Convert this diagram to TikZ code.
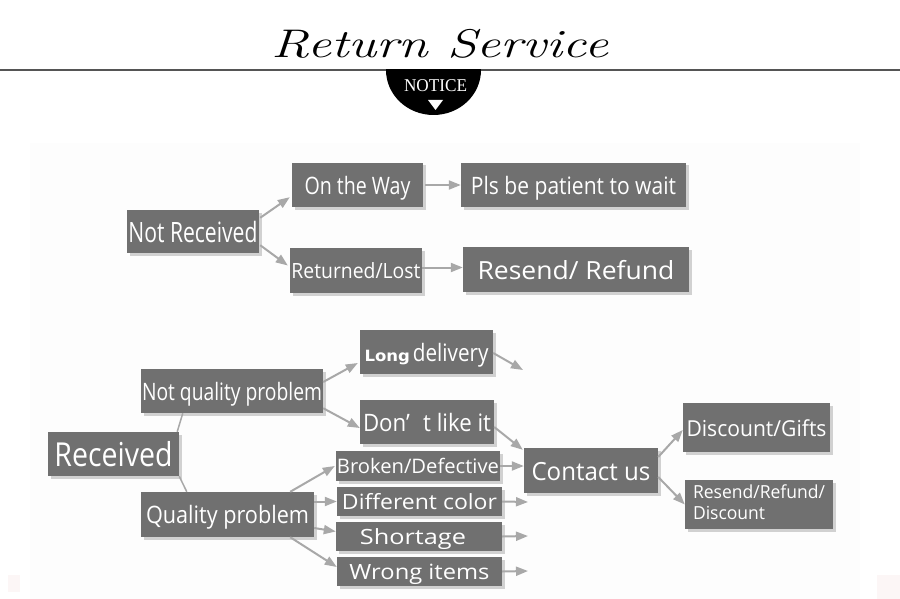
\documentclass[tikz,border=0pt]{standalone}
\usepackage{fontspec}
\setmainfont{Open Sans}
\newfontfamily\notefont{Liberation Serif}
\newfontfamily\titlefont{Latin Modern Roman}
\newfontfamily\tahfont{DejaVu Sans}
\usepackage{graphicx}
\usetikzlibrary{arrows.meta,shadows,calc}
\definecolor{boxgray}{RGB}{112,112,112}
\definecolor{arrgray}{RGB}{168,168,168}
\definecolor{rulegray}{RGB}{85,85,85}
\definecolor{panel}{RGB}{253,253,253}
\definecolor{pinkish}{RGB}{252,246,246}
\tikzset{
  box/.style={fill=boxgray,text=white,inner sep=0pt,align=center,
    drop shadow={shadow xshift=2.5pt,shadow yshift=-2.5pt,fill=black!22,opacity=0.8}},
  arr/.style={draw=arrgray,line width=2pt,-{Triangle[length=12pt,width=9pt]}},
  plainline/.style={draw=arrgray,line width=1.5pt}
}
% name, x1, y1, x2, y2, text width, font size, content
\newcommand\bx[8]{\node[box,font=\fontsize{#7}{#7}\selectfont,text height=\fpeval{0.78*#7}pt,text depth=0pt,minimum width={#4-#2},minimum height={#5-#3}] (#1) at ({(#2+#4)/2},{(#3+#5)/2}) {\resizebox{#6pt}{\height}{#8}};}
\begin{document}
\begin{tikzpicture}[x=1pt,y=-1pt]
\useasboundingbox (0,0) rectangle (900,599);
\fill[white] (0,0) rectangle (900,599);
\fill[panel] (30,143) rectangle (860,599);
\fill[pinkish] (8,575) rectangle (20,592);
\fill[pinkish] (877,575) rectangle (900,599);
% title
\node[anchor=base,inner sep=0pt] (title) at (440,58) {\resizebox{336pt}{\height}{\titlefont\fontsize{40}{40}\selectfont\itshape Return Service}};
\draw[rulegray,line width=1.5pt] (0,70) coordinate (rl0) -- (900,70) coordinate (rl1);
\begin{scope}
\clip (380,70) rectangle (490,125);
\fill[black] (433.5,70) ellipse [x radius=47.5pt,y radius=45pt];
\end{scope}
\node[text=white,inner sep=0pt] (notice) at (435.5,85.5) {\notefont\fontsize{18}{18}\selectfont\resizebox{63pt}{\height}{NOTICE}};
\fill[white] (428,100) -- (443,100) -- (435.5,110) -- cycle;
% top section
\bx{nr}{127}{210}{259}{253}{129}{28}{Not Received}
\bx{otw}{292}{163}{423}{207}{106}{24}{On the Way}
\bx{pls}{461}{163}{686}{207}{205}{24}{Pls be patient to wait}
\bx{rl}{290}{248}{422}{293}{129}{21}{Returned/Lost}
\bx{rr}{463}{247}{689}{292}{197}{25}{Resend/ Refund}
% bottom section
\bx{ld}{360}{330}{493}{374}{124}{24}{\resizebox{45pt}{\height}{\tahfont\bfseries\fontsize{15.5}{17}\selectfont Long}\hspace{3pt}\resizebox{75pt}{\height}{delivery}}
\bx{nqp}{141}{369}{323}{413}{180}{24}{Not quality problem}
\bx{dl}{360}{400}{494}{444}{128}{24}{Don’\hspace{0.6em}t like it}
\bx{rec}{48}{432}{179}{476}{118}{33}{Received}
\bx{bd}{336}{451}{500}{481}{162}{20}{Broken/Defective}
\bx{dc}{337}{487}{502}{516}{155}{21}{Different color}
\bx{sh}{336}{522}{502}{551}{94}{21}{\hspace{-10pt}Shortage}
\bx{wi}{337}{557}{502}{586}{140}{21}{Wrong items}
\bx{qp}{141}{492}{314}{537}{163}{24}{Quality problem}
\bx{cu}{524}{448}{658}{493}{119}{25}{Contact us}
\bx{dg}{683}{403}{830}{452}{140}{22}{Discount/Gifts}
\node[box,font=\fontsize{18}{21}\selectfont,minimum width=148,minimum height=49] (rrd) at (759,504.5) {\resizebox{132pt}{\height}{\begin{tabular}{@{}l@{}}Resend/Refund/\\Discount\end{tabular}}};
% free ends
\coordinate (ldend) at (523,370);
\coordinate (dcend) at (528,502);
\coordinate (shend) at (528,536);
\coordinate (wiend) at (528,571);
% top arrows
\draw[arr] ($(nr.north east)+(1,8)$) -- ($(otw.south west)+(-2,-10)$);
\draw[arr] ($(nr.south east)+(1,-8)$) -- ($(rl.west)+(-2,-5)$);
\draw[arr] ($(otw.east)+(2,0)$) -- (otw.east -| pls.west);
\draw[arr] ($(rl.east)+(0,-3)$) -- ($(rl.east -| rr.west)+(0,-3)$);
% bottom connectors
\draw[plainline] ($(rec.north east)+(-2,0)$) -- ($(nqp.south west)+(42,0)$);
\draw[plainline] (rec.south east) -- ($(qp.north west)+(46,0)$);
\draw[arr] ($(nqp.east)+(0,-9)$) -- ($(ld.west)+(-2,11)$);
\draw[arr] ($(nqp.south east)+(0,-5)$) -- ($(dl.west)+(0,6)$);
\draw[arr] ($(ld.east)+(0,1)$) -- (ldend);
\draw[arr] ($(dl.east)+(0,5)$) -- ($(cu.north west)+(-1,2)$);
\draw[arr] ($(qp.north east)+(-24,0)$) -- ($(bd.west)+(-1,0)$);
\draw[arr] (qp.east |- dc.west) -- (dc.west);
\draw[arr] ($(qp.east)+(0,13.5)$) -- ($(sh.west)+(0,-5)$);
\draw[arr] ($(qp.south east)+(-24,0)$) -- ($(wi.west)+(0,-4.5)$);
\draw[arr] (bd.east) -- (bd.east -| cu.west);
\draw[arr] (dc.east) -- (dcend);
\draw[arr] (sh.east) -- (shend);
\draw[arr] (wi.east) -- (wiend);
\draw[arr] ($(cu.east)+(0,-13.5)$) -- ($(dg.west)+(0,2.5)$);
\draw[arr] ($(cu.east)+(0,6.5)$) -- (rrd.west);
\end{tikzpicture}
\end{document}
